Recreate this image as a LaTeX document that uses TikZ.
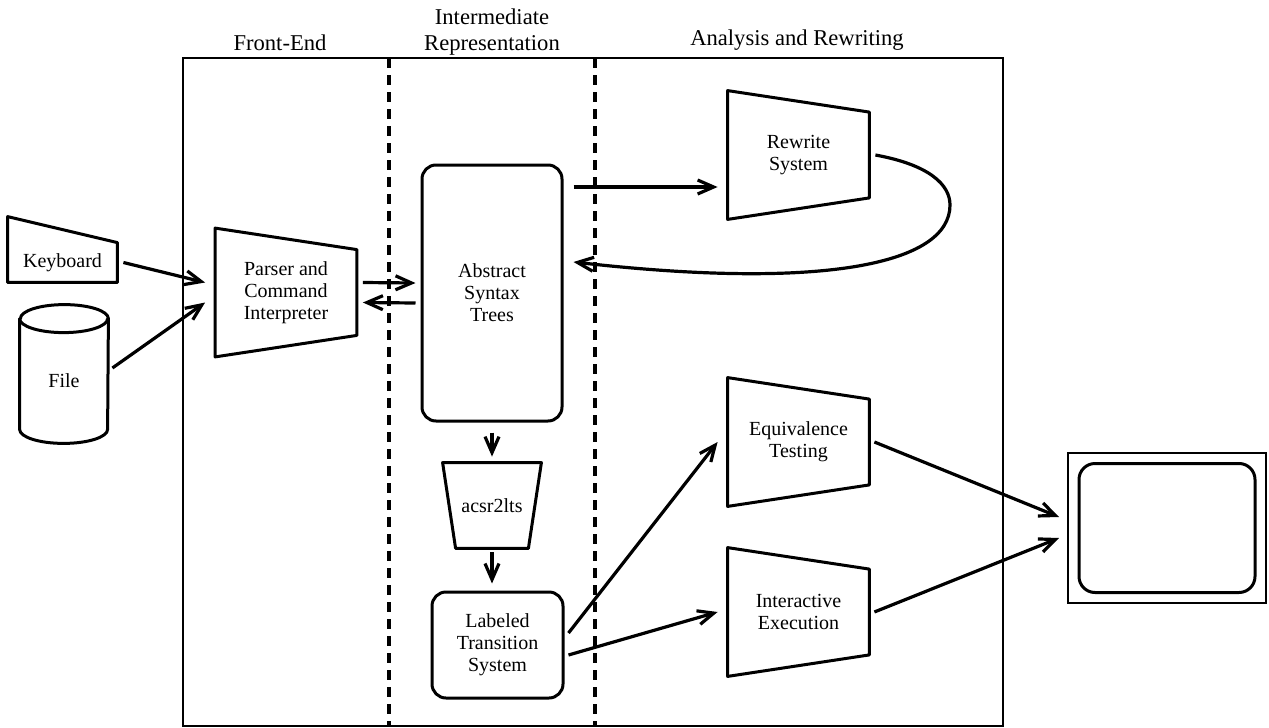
\documentclass[tikz,border=0pt]{standalone}
\usepackage{fontspec}
\setmainfont{Liberation Serif}
\usetikzlibrary{arrows.meta}

\begin{document}
\begin{tikzpicture}[x=0.5pt, y=-0.5pt, inner sep=0pt, >={Straight Barb[length=8pt,width=7pt]},
    label/.style={font=\fontsize{10}{11}\selectfont, align=center},
    head/.style={font=\fontsize{11.3}{13}\selectfont, align=center},
    tapered/.style={label, minimum width=70.5pt, minimum height=64pt},
    rounded/.style={label, draw, line width=1.5pt, rounded corners=7pt},
    outline/.style={line width=1.5pt, line join=round},
    flow/.style={->, line width=1.6pt}]
      \useasboundingbox (0,0) rectangle (1269,728);

      % column headings
      \node[head, anchor=base] (fe) at (280,50) {Front-End};
      \node[head] (ir) at (492,32) {Intermediate\\Representation};
      \node[head, anchor=base] (ar) at (797,46) {Analysis and Rewriting};

      \draw[line width=1.1pt] (183,58) rectangle (1003,726);
      \draw[line width=1.6pt, dash pattern=on 5pt off 3.5pt] (389,58) -- (389,726);
      \draw[line width=1.6pt, dash pattern=on 5pt off 3.5pt] (595,58) -- (595,726);

      % inputs
      \node[label, minimum width=54.5pt, minimum height=19.5pt] (kbd) at (62.5,262.5) {Keyboard};
      \node[label, minimum width=44pt, minimum height=56pt] (file) at (64,381) {File};

      \node[tapered] (parser) at (286,292.5) {Parser and\\Command\\Interpreter};
      \node[rounded, minimum width=70pt, minimum height=128pt] (ast) at (492,293) {Abstract\\Syntax\\Trees};
      \node[label, minimum width=49pt, minimum height=42.5pt] (acsr) at (492,505.5) {acsr2lts};
      \node[rounded, minimum width=65.5pt, minimum height=53pt] (lts) at (497.5,645) {Labeled\\Transition\\System};

      \node[tapered] (rewrite) at (798.5,155) {Rewrite\\System};
      \node[tapered] (equiv) at (798.5,442) {Equivalence\\Testing};
      \node[tapered] (inter) at (798.5,612) {Interactive\\Execution};

      % display
      \node[draw, line width=1pt, minimum width=99pt, minimum height=75pt] (monitor) at (1167,528) {};
      \node[draw, line width=1.5pt, rounded corners=8pt, minimum width=88pt, minimum height=64.5pt] (screen) at (monitor) {};

      % outlines
      \draw[outline] ([yshift=13pt]kbd.north west) -- (kbd.north east) -- (kbd.south east) -- (kbd.south west) -- cycle;
      \draw[outline] ([yshift=3pt]file.north west) -- ([yshift=4pt]file.south west)
        arc[start angle=180, end angle=360, x radius=22pt, y radius=7pt]
        -- ([yshift=3pt]file.north east)
        arc[start angle=0, end angle=180, x radius=22pt, y radius=7pt] -- cycle;
      \draw[outline] ([yshift=3pt]file.north west) arc[start angle=180, end angle=360, x radius=22pt, y radius=7pt];
      \foreach \n in {parser,rewrite,equiv,inter}
        \draw[outline] (\n.north west) -- ([yshift=-10.75pt]\n.north east) -- ([yshift=10.75pt]\n.south east) -- (\n.south west) -- cycle;
      \draw[outline] (acsr.north west) -- (acsr.north east) -- ([xshift=-6.5pt]acsr.south east) -- ([xshift=6.5pt]acsr.south west) -- cycle;

      % connectors
      \draw[flow] ([xshift=3pt]kbd.east) -- ([xshift=-5pt,yshift=5pt]parser.west);
      \draw[flow] ([xshift=2pt,yshift=6.5pt]file.east) -- ([xshift=-5pt,yshift=-5pt]parser.west);
      \draw[flow] ([xshift=3pt,yshift=5pt]parser.east) -- ([xshift=-2.5pt,yshift=5pt]ast.west);
      \draw[flow] ([xshift=-2.5pt,yshift=-5pt]ast.west) -- ([xshift=3pt,yshift=-5pt]parser.east);

      \draw[flow] ([xshift=5pt,yshift=53pt]ast.east) -- ([xshift=-5pt,yshift=-16pt]rewrite.west);
      \draw[flow] ([xshift=3pt]rewrite.east) .. controls (930,165) and (950,185) .. (950,205)
        .. controls (950,265) and (820,290) .. ([xshift=5pt,yshift=15.5pt]ast.east);

      \draw[flow, shorten <=5pt, shorten >=3pt] (ast.south) -- (acsr.north);
      \draw[flow, shorten <=2pt, shorten >=3.5pt] (acsr.south) -- (acsr.south |- lts.north);

      \draw[flow] ([xshift=2pt,yshift=6pt]lts.east) -- ([xshift=-5pt]equiv.west);
      \draw[flow] ([xshift=2pt,yshift=-5pt]lts.east) -- ([xshift=-5pt]inter.west);

      \draw[flow] ([xshift=2.5pt]equiv.east) -- ([xshift=-4pt,yshift=5.5pt]monitor.west);
      \draw[flow] ([xshift=2.5pt]inter.east) -- ([xshift=-4pt,yshift=-5pt]monitor.west);
    \end{tikzpicture}
\end{document}
